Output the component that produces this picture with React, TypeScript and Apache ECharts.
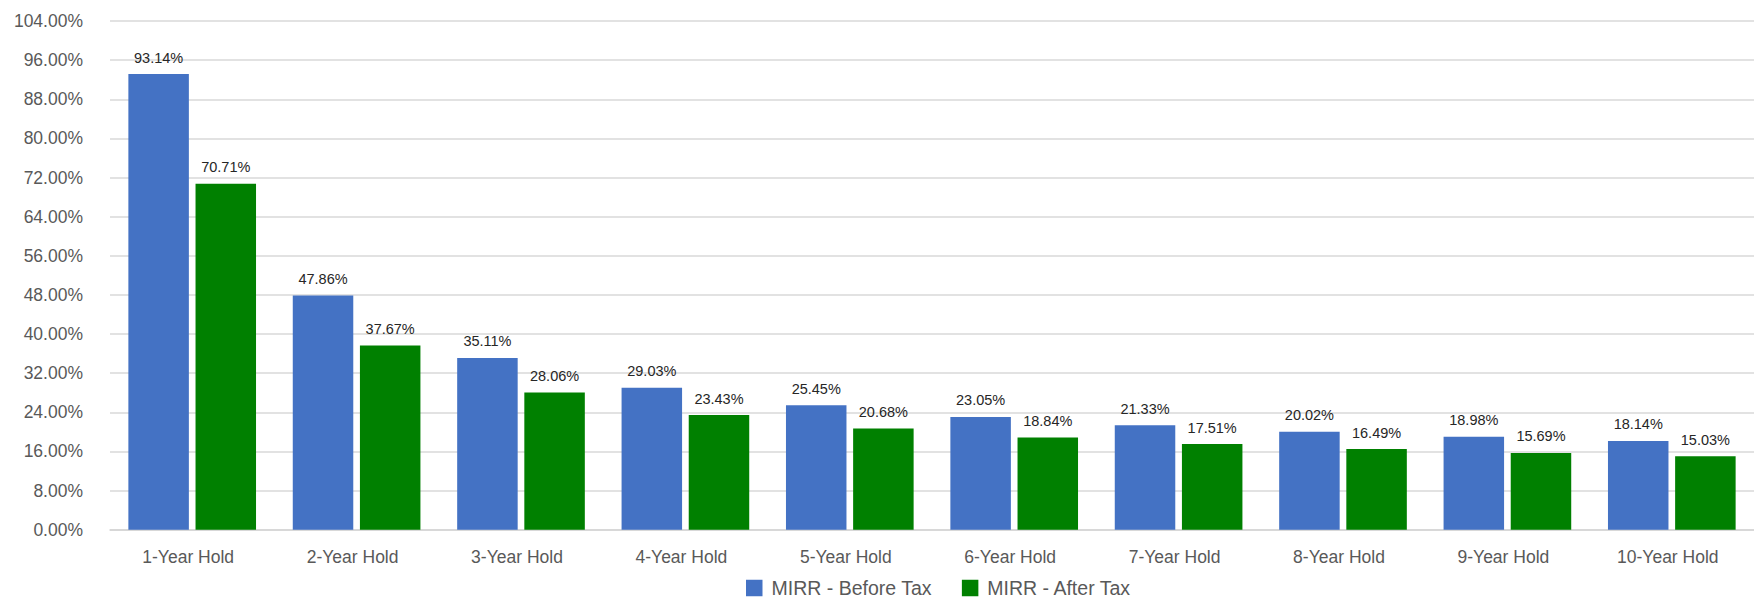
import React, { useEffect, useRef } from "react";
import * as echarts from "echarts";

const categories = [
  "1-Year Hold",
  "2-Year Hold",
  "3-Year Hold",
  "4-Year Hold",
  "5-Year Hold",
  "6-Year Hold",
  "7-Year Hold",
  "8-Year Hold",
  "9-Year Hold",
  "10-Year Hold",
];
const beforeTax = [93.14, 47.86, 35.11, 29.03, 25.45, 23.05, 21.33, 20.02, 18.98, 18.14];
const afterTax = [70.71, 37.67, 28.06, 23.43, 20.68, 18.84, 17.51, 16.49, 15.69, 15.03];
const seriesNames = ["MIRR - Before Tax", "MIRR - After Tax"];
const yMin = 0;
const yMax = 104;
const yInterval = 8;

const FONT = "'Liberation Sans', Arial, Helvetica, sans-serif";

export default function App() {
  const ref = useRef<HTMLDivElement>(null);

  useEffect(() => {
    document.body.style.margin = "0";
    if (!ref.current) return;
    const chart = echarts.init(ref.current, undefined, { renderer: "svg" });
    const pct = (v: number) => v.toFixed(2) + "%";
    const labelCfg = {
      show: true,
      position: "top" as const,
      distance: 9,
      color: "#262626",
      fontSize: 14.5,
      fontFamily: FONT,
      formatter: (p: any) => pct(p.value),
    };
    chart.setOption({
      animation: false,
      textStyle: { fontFamily: FONT },
      grid: { left: 110, top: 21, width: 1663, bottom: 68.3, containLabel: false },
      legend: {
        left: 746,
        top: 578,
        padding: 0,
        itemWidth: 16.5,
        itemHeight: 16.5,
        itemGap: 30,
        icon: "rect",
        textStyle: { fontSize: 19.5, lineHeight: 18, color: "#595959", fontFamily: FONT, padding: [0, 0, 0, 4] },
        data: seriesNames,
      },
      xAxis: {
        type: "category",
        data: categories,
        axisTick: { show: false },
        axisLine: { show: true, lineStyle: { color: "#d4d4d4", width: 1.5 } },
        axisLabel: {
          color: "#595959",
          fontSize: 17.5,
          margin: 18,
          padding: [0, 8, 0, 0],
          fontFamily: FONT,
        },
      },
      yAxis: {
        type: "value",
        min: yMin,
        max: yMax,
        interval: yInterval,
        axisLine: { show: false },
        axisTick: { show: false },
        splitLine: { lineStyle: { color: "#d9d9d9", width: 1.5 } },
        axisLabel: {
          color: "#595959",
          fontSize: 17.5,
          margin: 27,
          fontFamily: FONT,
          formatter: (v: number) => pct(v),
        },
      },
      series: [
        {
          name: seriesNames[0],
          type: "bar",
          data: beforeTax,
          barWidth: 60.5,
          barGap: "11%",
          itemStyle: { color: "#4472C4" },
          label: labelCfg,
        },
        {
          name: seriesNames[1],
          type: "bar",
          data: afterTax,
          barWidth: 60.5,
          barGap: "11%",
          itemStyle: { color: "#008000" },
          label: labelCfg,
        },
      ],
    });
    return () => chart.dispose();
  }, []);

  return (
    <div
      ref={ref}
      style={{ position: "fixed", left: 0, top: 0, width: 1754, height: 598, background: "#fff" }}
    />
  );
}
